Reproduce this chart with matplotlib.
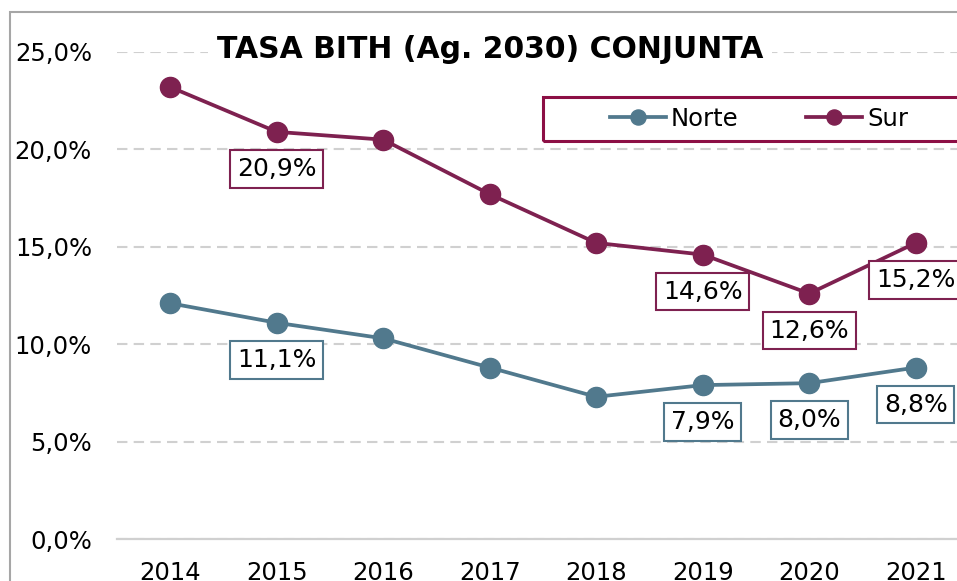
import matplotlib
matplotlib.use('Agg')
import matplotlib.pyplot as plt
from matplotlib.patches import Rectangle
from matplotlib.ticker import FuncFormatter

# datos
years = ['2014', '2015', '2016', '2017', '2018', '2019', '2020', '2021']
norte = [12.1, 11.1, 10.3, 8.8, 7.3, 7.9, 8.0, 8.8]
sur = [23.2, 20.9, 20.5, 17.7, 15.2, 14.6, 12.6, 15.2]
labeled = [1, 5, 6, 7]  # puntos con etiqueta

c_norte = '#51798d'
c_sur = '#7e2150'
c_legend = '#8c0f45'

W, H = 957, 581
fig = plt.figure(figsize=(W / 100, H / 100), dpi=100)
ax = fig.add_axes([117 / W, 42 / H, (969 - 117) / W, (539 - 52) / H])

x = range(len(years))
ax.plot(x, norte, color=c_norte, lw=2.7, marker='o', ms=14.5, label='Norte', zorder=3)
ax.plot(x, sur, color=c_sur, lw=2.7, marker='o', ms=14.5, label='Sur', zorder=3)

for i in labeled:
    for vals, col in ((norte, c_norte), (sur, c_sur)):
        ax.annotate(f'{vals[i]:.1f}%'.replace('.', ','), (i, vals[i]),
                    xytext=(0, -37), textcoords='offset pixels',
                    ha='center', va='center', fontsize=18, zorder=4,
                    bbox=dict(boxstyle='square,pad=0.27', fc='white', ec=col, lw=1.5))

ax.set_xlim(-0.5, 7.5)
ax.set_ylim(0, 25)
ax.set_xticks(list(x))
ax.set_xticklabels(years)
ax.set_yticks([0, 5, 10, 15, 20, 25])
ax.yaxis.set_major_formatter(FuncFormatter(lambda v, p: f'{v:.1f}%'.replace('.', ',')))
ax.tick_params(axis='both', length=0, labelsize=17.5)
ax.tick_params(axis='y', pad=18)
ax.tick_params(axis='x', pad=16)
ax.grid(axis='y', color='#d0d0d0', lw=1.5, ls=(0, (5, 3)))
for s in ['top', 'right', 'left']:
    ax.spines[s].set_visible(False)
ax.spines['bottom'].set_color('#d0d0d0')
ax.spines['bottom'].set_linewidth(1.6)

fig.text(490 / W, 1 - 50 / H, 'TASA BITH (Ag. 2030) CONJUNTA', ha='center', va='center',
         fontsize=21.5, fontweight='bold',
         bbox=dict(boxstyle='square,pad=0.3', fc='white', ec='none'))

# marco del grafico
fig.add_artist(Rectangle((10 / W, -0.1), 1.2, 1 - 12 / H + 0.1, transform=fig.transFigure,
                         fill=False, ec='#a6a6a6', lw=1.5))
# caja de la leyenda
fig.add_artist(Rectangle((543 / W, 1 - 141 / H), 0.5, 44 / H, transform=fig.transFigure,
                         fill=False, ec=c_legend, lw=2.2))
fig.legend(loc='center left', bbox_to_anchor=(610 / W, 1 - 119 / H), ncol=2, frameon=False,
           fontsize=17.5, handlelength=2.3, handletextpad=0.2, columnspacing=2.8,
           borderpad=0, borderaxespad=0, markerscale=0.75)

fig.savefig('out.png', dpi=100)
